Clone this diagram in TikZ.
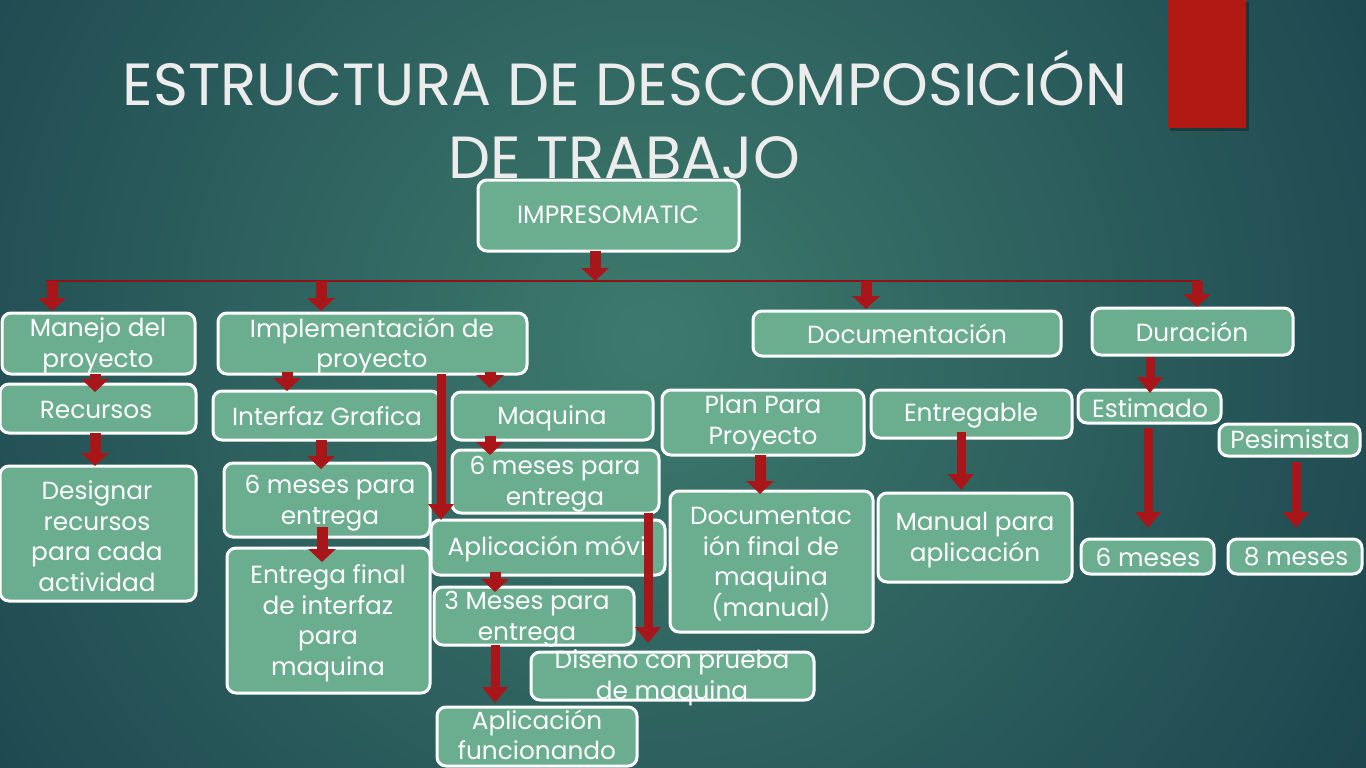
\documentclass[tikz,border=0pt]{standalone}
\usepackage{fontspec}
\setmainfont{Poppins}
\usetikzlibrary{arrows.meta}
\definecolor{bgin}{HTML}{3D7A6D}
\definecolor{bgout}{HTML}{133646}
\definecolor{boxfill}{HTML}{6AAD8F}
\definecolor{arrred}{HTML}{A8161A}
\definecolor{barred}{HTML}{B01814}
\definecolor{titlecol}{HTML}{ECECEC}
\tikzset{
  box/.style={draw=white, line width=3pt, fill=boxfill, rounded corners=9pt, inner sep=0pt, outer sep=0pt},
  boxtext/.style={text=white, align=center, inner sep=0pt, font=\fontsize{24.8}{30.5}\selectfont},
  arr/.style={draw=arrred, line width=11pt, -{Triangle[width=27pt,length=13pt]}},
  longarr/.style={draw=arrred, line width=9pt, -{Triangle[width=25pt,length=16pt]}},
  bus/.style={draw=arrred!85!black, line width=1.3pt}
}
\newcommand\wbox[8]{%
  \node[box, minimum width={#4-#2}, minimum height={#5-#3}] (#1) at ({(#2+#4)/2},{(#3+#5)/2}) {};
  \node[boxtext] (#1-t) at (#6,#7) {#8};
}
\begin{document}
\begin{tikzpicture}[x=1pt,y=-1pt]
\useasboundingbox (0,0) rectangle (1366,768);
\begin{scope}
  \clip (0,0) rectangle (1366,768);
  \shade[inner color=bgin, outer color=bgout] (650,340) circle (1080);
\end{scope}
% red bar
\fill[black, opacity=.3] (1170,2) rectangle (1249,131);
\fill[barred] (1168,0) rectangle (1246,128);
% title
\node[anchor=base, text=titlecol, inner sep=0pt, font=\fontsize{59.5}{70}\selectfont] (title1) at (625,106) {ESTRUCTURA DE DESCOMPOSICIÓN};
\node[anchor=base, text=titlecol, inner sep=0pt, font=\fontsize{59.5}{70}\selectfont] (title2) at (624,178) {DE TRABAJO};
% boxes
\wbox{imp}{478}{180}{739}{251}{608}{215}{\fontsize{25}{30}\selectfont IMPRESOMATIC}
\wbox{manejo}{2}{313}{195}{374}{98}{346}{Manejo del\\proyecto}
\wbox{impl}{218}{313}{527}{374}{372}{346}{Implementación de\\proyecto}
\wbox{doc}{753}{311}{1061}{356}{907}{334}{Documentación}
\wbox{dur}{1092}{308}{1293}{355}{1192}{332}{Duración}
\wbox{rec}{0}{384}{196}{433}{96}{410}{Recursos}
\wbox{intf}{213}{391}{440}{440}{327}{416}{Interfaz Grafica}
\wbox{maq}{452}{392}{653}{440}{552}{418}{Maquina}
\wbox{plan}{662}{390}{864}{455}{763}{423}{Plan Para\\Proyecto}
\wbox{entg}{871}{390}{1072}{438}{971}{416}{Entregable}
\wbox{est}{1078}{390}{1221}{423}{1150}{408}{Estimado}
\wbox{pes}{1219}{424}{1360}{456}{1290}{439}{Pesimista}
\wbox{desig}{0}{466}{196}{601}{97}{536}{Designar\\recursos\\para cada\\actividad}
\wbox{seisA}{224}{463}{430}{537}{330}{503}{6 meses para\\entrega}
\wbox{entf}{227}{548}{430}{693}{328}{623}{Entrega final\\de interfaz\\para\\maquina}
\wbox{seisB}{452}{450}{659}{513}{555}{484}{6 meses para\\entrega}
\wbox{apm}{431}{520}{665}{575}{550}{549}{Aplicación móvil}
\wbox{tres}{434}{587}{634}{645}{527}{619}{3 Meses para\\entrega}
\wbox{apf}{437}{707}{637}{766}{537}{735}{Aplicación\\funcionando}
\wbox{dis}{531}{652}{814}{700}{672}{678}{Diseno con prueba\\de maquina}
\wbox{docf}{670}{491}{873}{632}{771}{564}{Documentac\\ión final de\\maquina\\(manual)}
\wbox{man}{878}{493}{1072}{582}{975}{540}{Manual para\\aplicación}
\wbox{seis}{1081}{539}{1214}{574}{1148}{557}{6 meses}
\wbox{ocho}{1228}{539}{1362}{574}{1296}{557}{8 meses}
% bus line
\coordinate (busL) at (46,281);
\coordinate (busR) at (1200,281);
\draw[bus] (busL) -- (busR);
% arrows
\draw[arr] (595,0 |- imp.south) -- (595,0 |- busL);
\draw[arr] (52,0 |- busL) -- ([yshift=2pt]52,0 |- manejo.north);
\draw[arr] (321,0 |- busL) -- ([yshift=2pt]321,0 |- impl.north);
\draw[arr] (866,0 |- busL) -- ([yshift=2pt]866,0 |- doc.north);
\draw[arr] (1197,0 |- busL) -- ([yshift=1pt]1197,0 |- dur.north);
\draw[arr] (95,0 |- manejo.south) -- ([yshift=-8pt]95,0 |- rec.north);
\draw[arr] (95,0 |- rec.south) -- (95,0 |- desig.north);
\draw[arr] ([yshift=2pt]287,0 |- impl.south) -- (287,0 |- intf.north);
\draw[arr] ([yshift=2pt]490,0 |- impl.south) -- ([yshift=4pt]490,0 |- maq.north);
\draw[longarr] (441,0 |- impl.south) -- (441,0 |- apm.north);
\draw[arr] (321,0 |- intf.south) -- ([yshift=-6pt]321,0 |- seisA.north);
\draw[arr] ([yshift=10pt]322,0 |- seisA.south) -- ([yshift=-14pt]322,0 |- entf.north);
\draw[arr] ([yshift=4pt]490,0 |- maq.south) -- ([yshift=-5pt]490,0 |- seisB.north);
\draw[longarr] (648,0 |- seisB.south) -- ([yshift=9pt]648,0 |- dis.north);
\draw[arr] ([yshift=3pt]495,0 |- apm.south) -- ([yshift=-5pt]495,0 |- tres.north);
\draw[longarr] (495,0 |- tres.south) -- ([yshift=4pt]495,0 |- apf.north);
\draw[arr] (760,0 |- plan.south) -- ([yshift=-3pt]760,0 |- docf.north);
\draw[longarr] ([yshift=6pt]961,0 |- entg.south) -- ([yshift=3pt]961,0 |- man.north);
\draw[longarr] ([yshift=-2pt]1150,0 |- dur.south) -- ([yshift=-3pt]1150,0 |- est.north);
\draw[longarr] ([yshift=-5pt]1148,0 |- est.south) -- ([yshift=11pt]1148,0 |- seis.north);
\draw[longarr] ([yshift=-6pt]1296,0 |- pes.south) -- ([yshift=11pt]1296,0 |- ocho.north);
\end{tikzpicture}
\end{document}
